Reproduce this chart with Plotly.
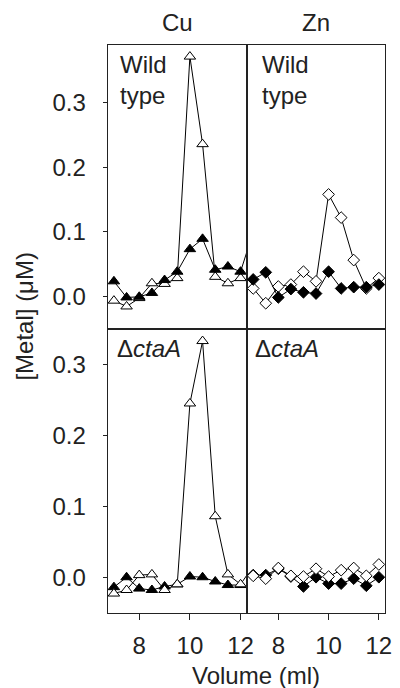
import plotly.graph_objects as go

# Elution volumes (ml); the extra 12.5 ml fraction runs past the axis edge
volume = [7.0, 7.5, 8.0, 8.5, 9.0, 9.5, 10.0, 10.5, 11.0, 11.5, 12.0]
volume_ext = volume + [12.5]

# Cu, wild type
cu_wt_open = [-0.007, -0.016, -0.003, 0.020, 0.019, 0.028, 0.372, 0.236, 0.030, 0.020, 0.028]
cu_wt_filled = [0.023, -0.002, -0.001, 0.005, 0.025, 0.038, 0.073, 0.089, 0.041, 0.046, 0.038, 0.100]
# Zn, wild type
zn_wt_open = [0.012, -0.011, 0.015, 0.018, 0.038, 0.023, 0.158, 0.122, 0.056, 0.012, 0.028]
zn_wt_filled = [0.026, 0.037, -0.002, 0.011, 0.006, 0.004, 0.038, 0.012, 0.014, 0.014, 0.018]
# Cu, ctaA deletion
cu_ko_open = [-0.023, -0.018, 0.003, 0.004, -0.018, -0.010, 0.245, 0.333, 0.086, 0.004, -0.010, 0.016]
cu_ko_filled = [-0.014, 0.000, -0.016, -0.018, -0.013, -0.010, 0.001, 0.000, -0.006, -0.011, -0.011]
# Zn, ctaA deletion
zn_ko_open = [0.002, -0.002, 0.013, 0.002, 0.001, 0.012, 0.001, 0.010, 0.013, 0.002, 0.018]
zn_ko_filled = [0.003, 0.003, 0.012, 0.001, -0.013, 0.000, -0.009, -0.009, -0.002, -0.012, 0.000]

x_ticks = [8, 10, 12]
y_ticks = [0.0, 0.1, 0.2, 0.3]
col_titles = ["Cu", "Zn"]

W, H = 400, 688
FONT = "Liberation Sans, Arial, Helvetica, sans-serif"
FS = 24


def px_x(p):
    return p / W


def px_y(p):
    return 1 - p / H


# panel edges in pixels
xl0, xm, xr1 = 109.5, 251.3, 392.0
yt0, ym, yb1 = 45.0, 329.0, 612.7

fig = go.Figure()


def add_series(x, y, xa, ya, symbol, fill, size):
    fig.add_trace(go.Scatter(
        x=x, y=y, xaxis=xa, yaxis=ya, mode="lines+markers",
        line=dict(color="black", width=1),
        marker=dict(symbol=symbol, size=size, color=fill,
                    line=dict(color="black", width=1)),
        cliponaxis=True, showlegend=False,
    ))


# top-left: Cu wild type
add_series(volume, cu_wt_open, "x", "y", "triangle-up", "white", 10)
add_series(volume_ext, cu_wt_filled, "x", "y", "triangle-up", "black", 10)
# top-right: Zn wild type
add_series(volume, zn_wt_open, "x2", "y2", "diamond", "white", 9)
add_series(volume, zn_wt_filled, "x2", "y2", "diamond", "black", 9)
# bottom-left: Cu ctaA
add_series(volume, cu_ko_filled, "x3", "y3", "triangle-up", "black", 10)
add_series(volume_ext, cu_ko_open, "x3", "y3", "triangle-up", "white", 10)
# bottom-right: Zn ctaA
add_series(volume, zn_ko_filled, "x4", "y4", "diamond", "black", 9)
add_series(volume, zn_ko_open, "x4", "y4", "diamond", "white", 9)

frame = dict(showline=True, linecolor="#222", linewidth=1, mirror=True,
             showgrid=False, zeroline=False)
tickfont = dict(family=FONT, size=FS, color="#222")
xrange = [6.75, 12.25]
top_yrange = [-0.051, 0.39]
bot_yrange = [-0.05, 0.35]

left_dom = [px_x(xl0), px_x(xm)]
right_dom = [px_x(xm), px_x(xr1)]
top_dom = [px_y(ym), px_y(yt0)]
bot_dom = [px_y(yb1), px_y(ym)]

x_top = dict(frame, range=xrange, showticklabels=False, ticks="")
x_bot = dict(frame, range=xrange, tickvals=x_ticks, ticks="outside", ticklen=6,
             tickcolor="#222", tickfont=tickfont, ticklabelstandoff=5)
y_left = dict(frame, tickvals=y_ticks, tickformat=".1f", ticks="outside", ticklen=4,
              tickcolor="#222", tickfont=tickfont, ticklabelstandoff=12)
y_right = dict(frame, showticklabels=False, ticks="")

fig.update_layout(
    width=W, height=H,
    margin=dict(l=0, r=0, t=0, b=0),
    paper_bgcolor="white", plot_bgcolor="white",
    xaxis=dict(x_top, domain=left_dom, anchor="y"),
    yaxis=dict(y_left, domain=top_dom, range=top_yrange, anchor="x"),
    xaxis2=dict(x_top, domain=right_dom, anchor="y2"),
    yaxis2=dict(y_right, domain=top_dom, range=top_yrange, anchor="x2"),
    xaxis3=dict(x_bot, domain=left_dom, anchor="y3"),
    yaxis3=dict(y_left, domain=bot_dom, range=bot_yrange, anchor="x3"),
    xaxis4=dict(x_bot, domain=right_dom, anchor="y4"),
    yaxis4=dict(y_right, domain=bot_dom, range=bot_yrange, anchor="x4"),
)


def note(text, x, y, xanchor="center", yanchor="middle", size=FS, angle=0):
    fig.add_annotation(
        text=text, x=px_x(x), y=px_y(y), xref="paper", yref="paper",
        xanchor=xanchor, yanchor=yanchor, showarrow=False, textangle=angle,
        align="left", font=dict(family=FONT, size=size, color="#222"),
    )


# column titles
note(col_titles[0], (xl0 + xm) / 2, 23)
note(col_titles[1], (xm + xr1) / 2, 23)
# panel labels
note("Wild<br>type", 120, 49, xanchor="left", yanchor="top")
note("Wild<br>type", 265, 49, xanchor="left", yanchor="top")
note("Δ<i>ctaA</i>", 117, 348, xanchor="left")
note("Δ<i>ctaA</i>", 258, 348, xanchor="left")
# axis titles
note("Volume (ml)", 261, 675)
note("[Metal] (μM)", 25, 316, angle=-90)

fig.write_html("out.html")
